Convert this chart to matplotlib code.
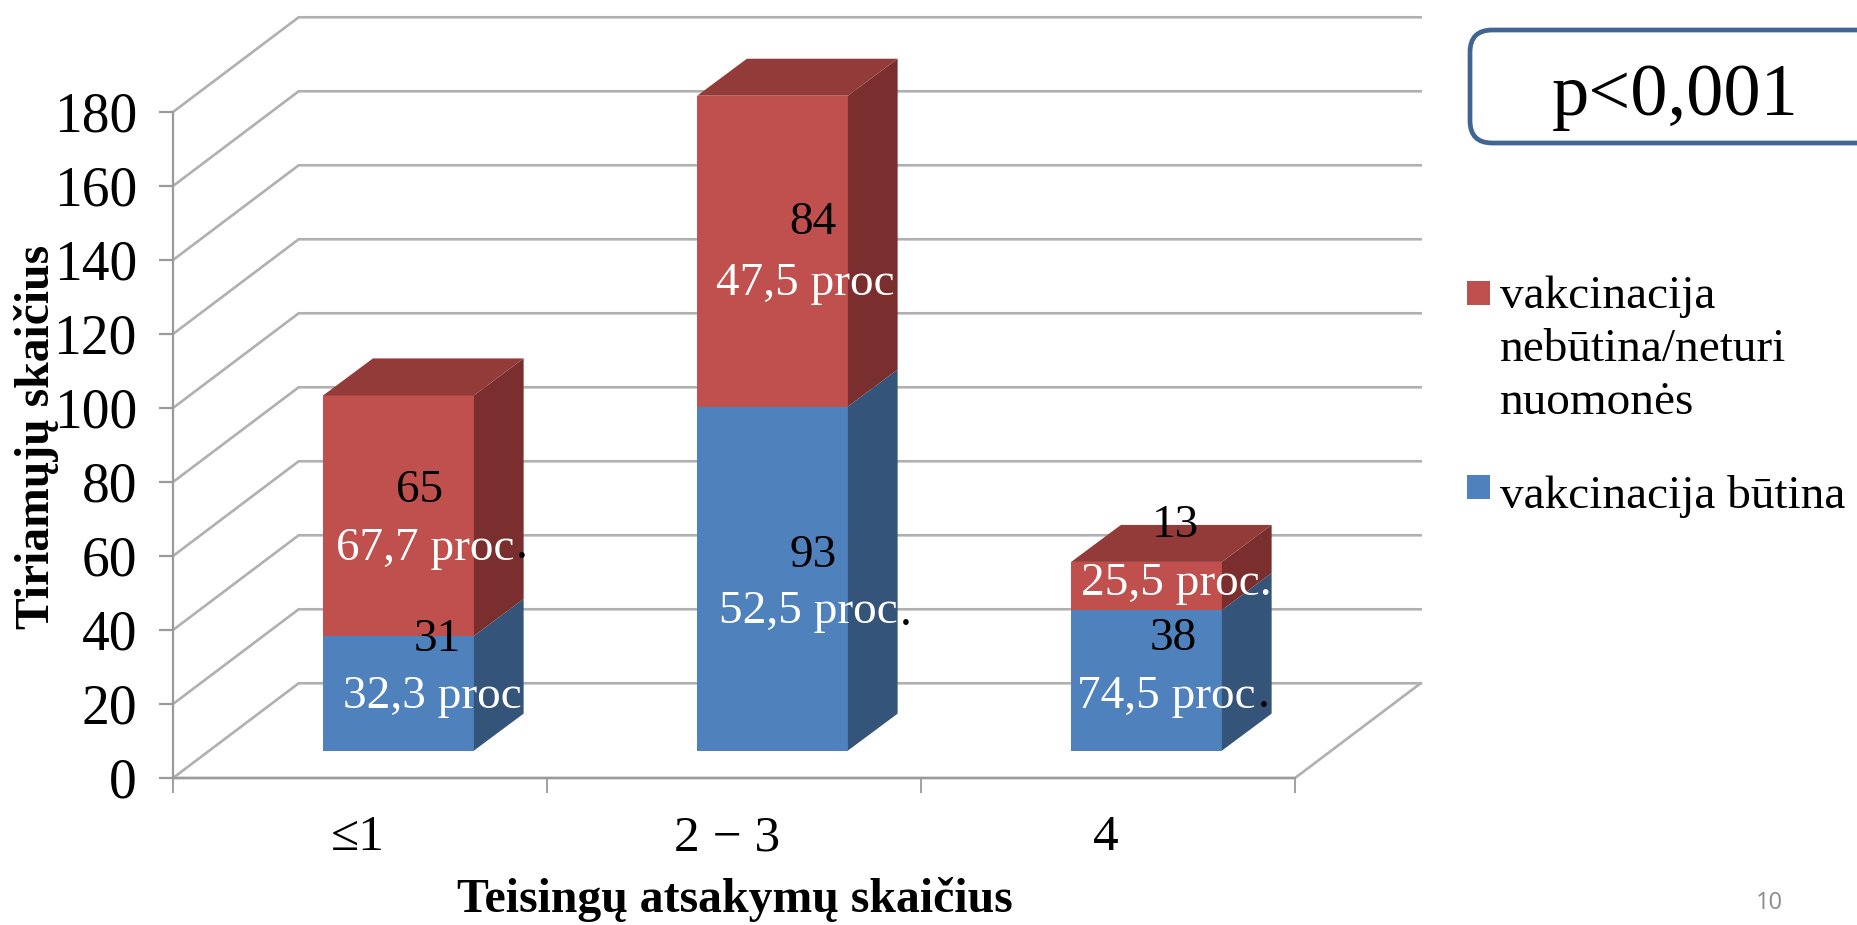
#!/usr/bin/env python3
# 3D looking stacked bars, depth is faked with polygons
import matplotlib
matplotlib.use('Agg')
import matplotlib.pyplot as plt
from matplotlib.patches import Polygon, Rectangle, FancyBboxPatch

W, H = 1858, 925

categories = ['≤1', '2 − 3', '4']
butina = [31, 93, 38]
nebutina = [65, 84, 13]
butina_proc = ['32,3 proc', '52,5 proc', '74,5 proc']
nebutina_proc = ['67,7 proc', '47,5 proc', '25,5 proc.']
y_ticks = [0, 20, 40, 60, 80, 100, 120, 140, 160, 180]
legend_labels = ['vakcinacija\nnebūtina/neturi\nnuomonės', 'vakcinacija būtina']

RED, RED_TOP, RED_SIDE = '#C0504D', '#933B39', '#7A2F2E'
BLUE, BLUE_SIDE = '#4F81BD', '#345479'
GRID = '#B0B0B0'
AXIS = '#9A9A9A'

plt.rcParams['font.family'] = ['Liberation Serif', 'DejaVu Serif']

fig = plt.figure(figsize=(W / 100, H / 100), dpi=100)


def ftext(x, y, s, **kw):
    # x, y in pixels from the top left of the picture
    kw.setdefault('ha', 'center')
    kw.setdefault('va', 'center')
    return fig.text(x / W, 1 - y / H, s, **kw)


# axes box is the front of the floor and the left edge of the wall
left, right, y0, y180 = 173, 1295, 778, 112
ax = fig.add_axes([left / W, 1 - y0 / H, (right - left) / W, (y0 - y180) / H])
ax.set_xlim(0, 3)
ax.set_ylim(0, 180)
ax.patch.set_visible(False)
for s in ['top', 'right']:
    ax.spines[s].set_visible(False)
for s in ['left', 'bottom']:
    ax.spines[s].set_color(AXIS)
    ax.spines[s].set_linewidth(1.6)

ax.set_yticks(y_ticks)
ax.tick_params(axis='y', length=10, width=1.6, color=AXIS, labelsize=40, pad=16)
ax.set_xticks([0, 1, 2, 3])
ax.set_xticklabels([])
ax.tick_params(axis='x', length=11, width=1.3, color=AXIS)

# walls and floor
wall_dx, wall_dy = 0.336, 25.6
for v in y_ticks:
    ax.plot([0, wall_dx, 3 + wall_dx], [v, v + wall_dy, v + wall_dy],
            color=GRID, lw=1.9, clip_on=False, zorder=1)
ax.plot([3 + wall_dx, 3, 0], [wall_dy, 0, 0], color=GRID, lw=1.9, clip_on=False, zorder=1)

# bars
bar_w = 0.403
bar_shift, bar_lift = 0.103, 7.7
dx, dy = 0.133, 10.0


def box(x, bottom, h, front, side, top=None):
    ax.add_patch(Polygon([(x, bottom), (x + bar_w, bottom), (x + bar_w, bottom + h), (x, bottom + h)],
                         fc=front, ec='none', clip_on=False, zorder=3))
    ax.add_patch(Polygon([(x + bar_w, bottom), (x + bar_w + dx, bottom + dy),
                          (x + bar_w + dx, bottom + h + dy), (x + bar_w, bottom + h)],
                         fc=side, ec='none', clip_on=False, zorder=3))
    if top is not None:
        ax.add_patch(Polygon([(x, bottom + h), (x + bar_w, bottom + h),
                              (x + bar_w + dx, bottom + h + dy), (x + dx, bottom + h + dy)],
                             fc=top, ec='none', clip_on=False, zorder=3))


for i in range(len(categories)):
    x = i + 0.5 + bar_shift - bar_w / 2
    box(x, -bar_lift + 15.1, butina[i], BLUE, BLUE_SIDE)
    box(x, -bar_lift + 15.1 + butina[i], nebutina[i], RED, RED_SIDE, RED_TOP)

# category labels
for x, s in zip([358, 727, 1106], categories):
    ftext(x, 838, s, fontsize=37)

# data labels, the white percent text and the black dots were separate in the original
count_xy = [(420, 491), (813, 223), (1176, 526)]
proc_xy = [(336, 549), (716, 284), (1081, 584)]
for i in range(3):
    ftext(count_xy[i][0], count_xy[i][1], str(nebutina[i]), fontsize=34, color='black')
    ftext(proc_xy[i][0], proc_xy[i][1], nebutina_proc[i], fontsize=34, color='white', ha='left')
count_xy = [(437, 640), (813, 556), (1173, 639)]
proc_xy = [(343, 697), (719, 612), (1077, 697)]
for i in range(3):
    ftext(count_xy[i][0], count_xy[i][1], str(butina[i]), fontsize=34, color='black')
    ftext(proc_xy[i][0], proc_xy[i][1], butina_proc[i], fontsize=34, color='white', ha='left')
for x, y in [(522, 558), (906, 625), (1264, 707)]:
    ftext(x, y, '.', fontsize=34, color='black', va='baseline')

# axis titles
ftext(735, 900, 'Teisingų atsakymų skaičius', fontsize=34.4, fontweight='bold')
ftext(37, 437, 'Tiriamųjų skaičius', fontsize=34.3, fontweight='bold', rotation=90)

# p value box runs off the right edge
fig.add_artist(FancyBboxPatch((1470 / W, 1 - 143 / H), 430 / W, 113 / H,
                              boxstyle='round,pad=0,rounding_size=0.012',
                              transform=fig.transFigure, fc='white', ec='#3E6593', lw=3.4,
                              mutation_aspect=W / H))
ftext(1675, 97, 'p<0,001', fontsize=53.6)

# legend
fig.add_artist(Rectangle((1467 / W, 1 - 305 / H), 23 / W, 24 / H, transform=fig.transFigure, fc=RED, ec='none'))
fig.add_artist(Rectangle((1467 / W, 1 - 499 / H), 23 / W, 24 / H, transform=fig.transFigure, fc=BLUE, ec='none'))
ftext(1500, 276, legend_labels[0], fontsize=34, ha='left', va='top', linespacing=1.32)
ftext(1500, 496, legend_labels[1], fontsize=34, ha='left')

ftext(1769, 903, '10', fontsize=17, color='#8C8C8C', family='Open Sans')

fig.savefig('out.png', dpi=100)
